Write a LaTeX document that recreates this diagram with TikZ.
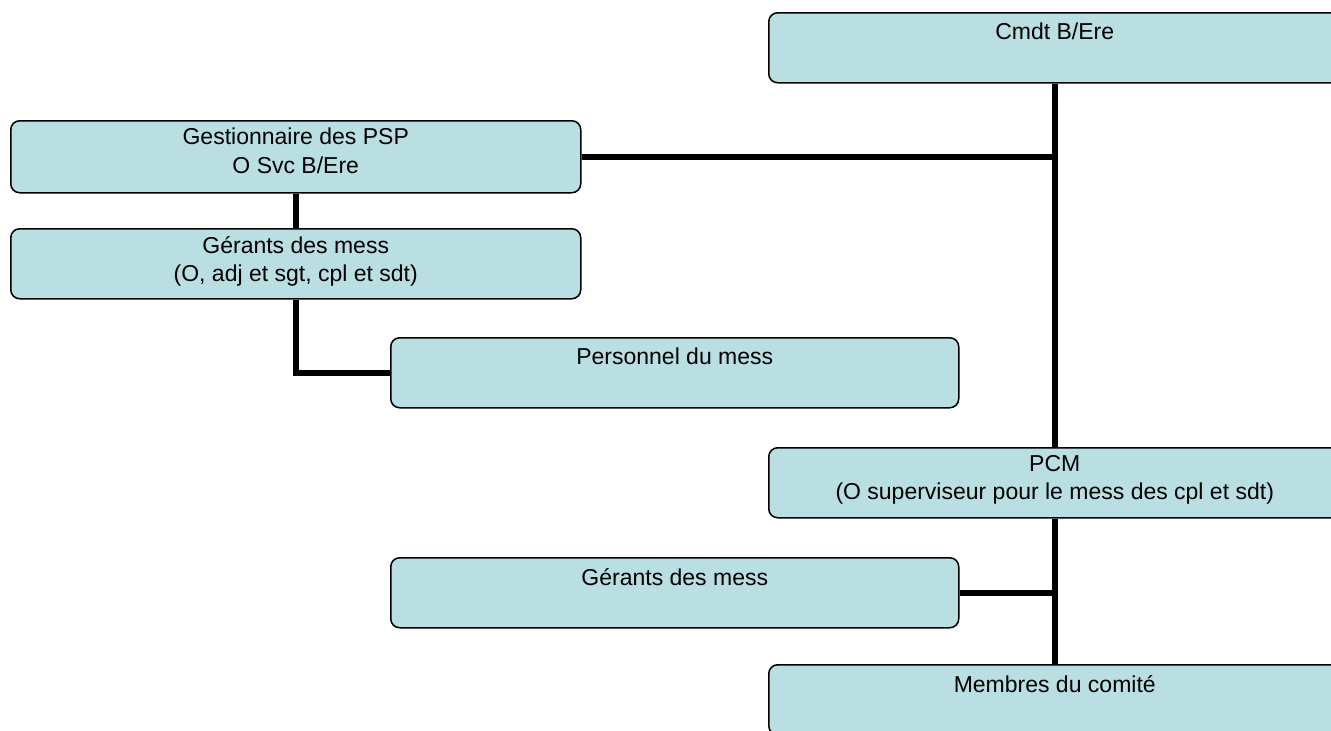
\documentclass[tikz,border=0pt]{standalone}
\usepackage{fontspec}
\setmainfont{Liberation Sans}
\usetikzlibrary{positioning}
\definecolor{boxcyan}{RGB}{185,223,226}
\begin{document}
\begin{tikzpicture}[x=1pt,y=-1pt,
    orgbox/.style={draw=black, line width=1.5pt, fill=boxcyan, rounded corners=9pt, minimum height=70pt, inner sep=0pt, anchor=north west},
    widebox/.style={orgbox, minimum width=570pt},
    midbox/.style={orgbox, minimum width=568pt},
    rightbox/.style={orgbox, minimum width=572pt},
    boxtext/.style={font=\fontsize{23}{28.5}\selectfont, align=center, anchor=north, inner sep=0pt},
    link/.style={line width=5.5pt}]
    \useasboundingbox (0,0) rectangle (1331,731);
    \node [rightbox] (cmdt) at (768,12) {};
    \node [widebox, minimum height=72pt] (gest) at (10,120) {};
    \node [widebox] (gerants) at (10,228) {};
    \node [midbox] (perso) at (390,337) {};
    \node [rightbox] (pcm) at (768,447) {};
    \node [midbox] (germess) at (390,557) {};
    \node [rightbox] (membres) at (768,664) {};
    \node [boxtext, below=11pt of cmdt.north] (cmdtlbl) {Cmdt B/Ere};
    \node [boxtext, below=8pt of gest.north] (gestlbl) {Gestionnaire des PSP\\O Svc B/Ere};
    \node [boxtext, below=8pt of gerants.north] (gerantslbl) {Gérants des mess\\(O, adj et sgt, cpl et sdt)};
    \node [boxtext, below=11pt of perso.north] (persolbl) {Personnel du mess};
    \node [boxtext, below=8pt of pcm.north] (pcmlbl) {PCM\\(O superviseur pour le mess des cpl et sdt)};
    \node [boxtext, below=11pt of germess.north] (germesslbl) {Gérants des mess};
    \node [boxtext, below=11pt of membres.north] (membreslbl) {Membres du comité};
    \draw [link] (cmdt.south) -- (pcm.north);
    \draw [link] (pcm.south) -- (membres.north);
    \draw [link] (gest.east) -- (gest.east -| cmdt.south);
    \draw [link] (gest.south) -- (gerants.north);
    \draw [link] (gerants.south) |- (perso.west);
    \draw [link] (germess.east) -- (germess.east -| pcm.south);
\end{tikzpicture}
\end{document}
